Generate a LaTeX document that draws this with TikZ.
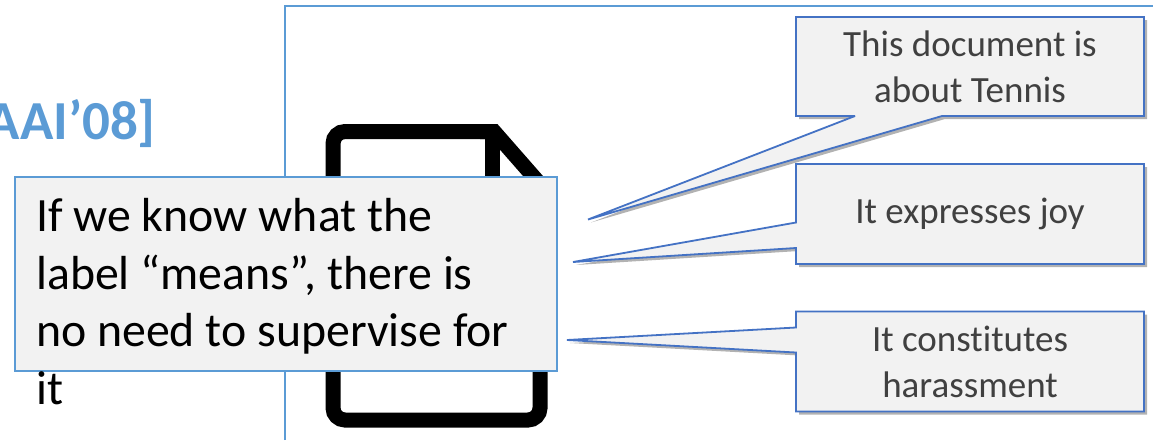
\documentclass[tikz,border=0pt]{standalone}
\usepackage{fontspec}
\setmainfont{Carlito}[Ligatures=NoCommon]
\usetikzlibrary{shadows}
\definecolor{framecol}{HTML}{5B9BD5}
\definecolor{calloutcol}{HTML}{4472C4}
\definecolor{fillcol}{HTML}{F2F2F2}
\definecolor{textcol}{HTML}{404040}
\tikzset{
	calloutshape/.style={draw=calloutcol, line width=1.8pt, fill=fillcol, line join=miter, miter limit=2, drop shadow={shadow xshift=3pt, shadow yshift=-3pt, opacity=0.3, fill=black}},
	calloutlabel/.style={text=textcol, align=center, font=\fontsize{37}{45.5}\selectfont, inner sep=0pt},
}
\begin{document}
\begin{tikzpicture}[>=stealth, x=1pt, y=-1pt]
	\useasboundingbox (0,0) rectangle (1153,440);
	\begin{scope}
		\clip (0,0) rectangle (1153,440);
		\draw[framecol, line width=2pt] (285,440) -- (285,5.5) -- (1153,5.5);
		\node[anchor=base east, inner sep=0pt, text=framecol, font=\fontsize{55}{60}\selectfont\bfseries] (venue) at (156,139.5) {AAI’08]};
		
		\draw[black, line width=15pt, rounded corners=12pt] (492,131.5) -- (333,131.5) -- (333,420) -- (540,420) -- (540,182);
		\draw[black, line width=15pt, line join=miter] (540,184) -- (494,131.5) -- (480,131.5);
		\draw[black, line width=15pt] (492,131.5) -- (492,185) -- (540,185);
		
		\node[draw=framecol, line width=2pt, fill=fillcol, minimum width=542pt, minimum height=194pt, inner sep=0pt] (notebox) at (286,274) {};
		\node[anchor=base west, inner sep=0pt, align=left, text=black, font=\fontsize{47.8}{57.5}\selectfont] (notetext) at (36,404) {If we know what the\\label “means”, there is\\no need to supervise for\\it};
		
		\draw[calloutshape] (796,17) -- (1144,17) -- (1144,116) -- (942,116) -- (588,219.5) -- (855,116) -- (796,116) -- cycle;
		\node[calloutlabel] (tennis) at (970,67) {This document is\\about Tennis};
		
		\draw[calloutshape] (796,164) -- (1144,164) -- (1144,264) -- (796,264) -- (796,248) -- (573,262) -- (796,222.5) -- cycle;
		\node[calloutlabel] (joy) at (970,214) {It expresses joy};
		
		\draw[calloutshape] (796,311.5) -- (1144,311.5) -- (1144,411.5) -- (796,411.5) -- (796,352.5) -- (567,340) -- (796,327.5) -- cycle;
		\node[calloutlabel] (harass) at (970,362) {It constitutes\\harassment};
	\end{scope}
\end{tikzpicture}
\end{document}
